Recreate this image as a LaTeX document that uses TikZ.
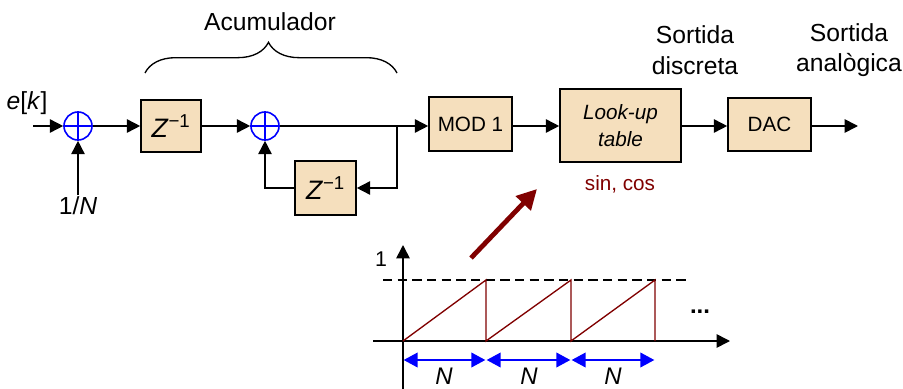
\documentclass[tikz,border=0pt]{standalone}
\usepackage{fontspec}
\setmainfont{Liberation Sans}
\usetikzlibrary{arrows.meta,decorations.pathreplacing}
\definecolor{boxfill}{RGB}{245,223,189}
\definecolor{dred}{RGB}{128,0,0}
\tikzset{
  blk/.style={draw=black, line width=1.2pt, fill=boxfill, inner sep=0pt, align=center, font=\fontsize{15.5}{17}\selectfont},
  zbox/.style={blk, font=\fontsize{20}{22}\selectfont},
  sumnode/.style={circle, draw=blue, line width=1.2pt, minimum size=21pt, inner sep=0pt},
  conn/.style={line width=1.2pt, -{Triangle[length=10pt,width=10pt]}},
  lbl/.style={font=\fontsize{18.5}{23}\selectfont, align=center, inner sep=1pt},
  nlbl/.style={font=\fontsize{18}{20}\selectfont\itshape, inner sep=0pt},
  narr/.style={blue, line width=1.3pt, {Triangle[length=10.5pt,width=11pt]}-{Triangle[length=10.5pt,width=11pt]}, shorten <=0.5pt, shorten >=0.5pt},
  saw/.style={dred, line width=1pt},
}
\begin{document}
\begin{tikzpicture}[x=0.75pt,y=-0.75pt]
\useasboundingbox (0,0) rectangle (903,389);
% blocks
\node[sumnode] (s1) at (78,126) {};
\draw[blue, line width=1.2pt] (s1.north) -- (s1.south) (s1.west) -- (s1.east);
\node[zbox, minimum width=45pt, minimum height=39pt] (z1) at (171,126) {\textit{Z}\textsuperscript{−1}};
\node[sumnode] (s2) at (265,126) {};
\draw[blue, line width=1.2pt] (s2.north) -- (s2.south) (s2.west) -- (s2.east);
\node[zbox, minimum width=45.75pt, minimum height=40.5pt] (z2) at (325.5,188) {\textit{Z}\textsuperscript{−1}};
\node[blk, minimum width=62.25pt, minimum height=40.5pt] (mod) at (470.5,124) {MOD 1};
\node[blk, minimum width=90.75pt, minimum height=54.75pt, font=\fontsize{15.5}{20}\selectfont\itshape] (lut) at (620.5,125.5) {Look-up\\table};
\node[blk, minimum width=62.25pt, minimum height=39.75pt] (dac) at (769.5,124.5) {DAC};
% labels
\node[lbl] (ek) at (27,103) {\textit{e}[\textit{k}]};
\node[lbl] (oneN) at (78,206) {1/\textit{N}};
\node[lbl] (acc) at (270,22) {Acumulador};
\node[lbl] (sd) at (695,50) {Sortida\\discreta};
\node[lbl] (sa) at (849,50) {Sortida\\analògica};
\node[font=\fontsize{15.5}{18}\selectfont, text=dred] (sc) at (620,184) {sin, cos};
% connectors
\coordinate (in) at (33,126);
\coordinate (br) at (397,126);
\coordinate (out) at (858,126);
\draw[conn] (in) -- (s1.west);
\draw[conn] (oneN.north) -- (s1.south);
\draw[conn] (s1.east) -- (z1.west);
\draw[conn] (z1.east) -- (s2.west);
\draw[conn] (s2.east) -- (mod.west |- s2.east);
\draw[conn] (br) |- (z2.east);
\draw[conn] (z2.west) -| (s2.south);
\draw[conn] (mod.east |- s2.east) -- (lut.west |- s2.east);
\draw[conn] (lut.east |- s2.east) -- (dac.west |- s2.east);
\draw[conn] (dac.east |- s2.east) -- (out);
% brace
\coordinate (bl) at (145,73);
\coordinate (brr) at (397,73);
\draw[line width=1pt, decorate, decoration={brace, amplitude=23pt, aspect=0.49}] (bl) -- (brr);
% graph
\coordinate (o) at (403,341);
\draw[line width=1.2pt, -{Triangle[length=10pt,width=10pt]}] (403,389) -- (403,245);
\draw[line width=1.2pt, -{Triangle[length=10pt,width=10pt]}] (373,341) -- (730,341);
\node[font=\fontsize{16}{18}\selectfont] (one) at (381,259) {1};
\draw[line width=1pt, dash pattern=on 7pt off 4pt] (383,280) -- (687,280);
\draw[saw] (o) -- (486,280) -- (486,341) -- (571,280) -- (571,341) -- (655,280) -- (655,341);
\node[font=\fontsize{18}{20}\selectfont\bfseries] (dots) at (700,312) {...};
\draw[narr] (403,360) -- (486,360);
\draw[narr] (486,360) -- (571,360);
\draw[narr] (571,360) -- (655,360);
\node[nlbl] (n1) at (444,376) {N};
\node[nlbl] (n2) at (529,376) {N};
\node[nlbl] (n3) at (613,376) {N};
\draw[dred, line width=3.6pt, -{Triangle[length=15pt,width=15pt]}] (471,258) -- (537,189);
\end{tikzpicture}
\end{document}
